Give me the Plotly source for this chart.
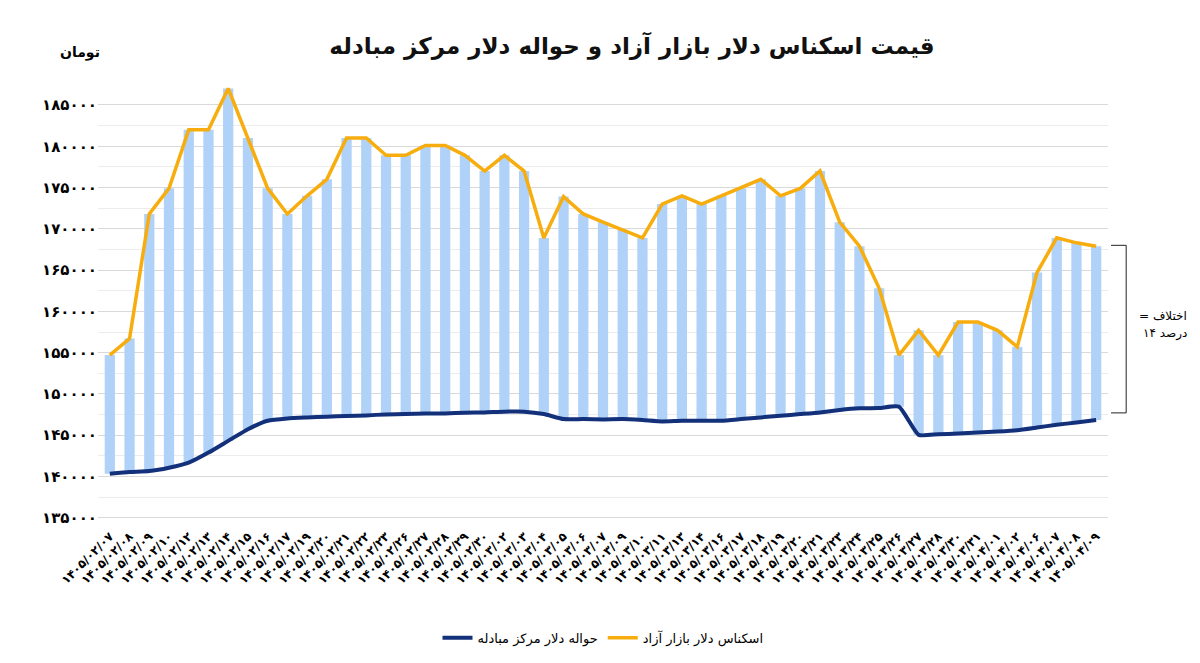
import plotly.graph_objects as go

fa = str.maketrans("0123456789", "۰۱۲۳۴۵۶۷۸۹")

days_02 = ["07","08","09","10","12","13","14","15","16","17","19","20","21","22","23","26","27","28","29","30"]
days_03 = ["02","03","04","05","06","07","09","10","11","13","14","16","17","18","19","20","21","23","24","25","26","27","28","30","31"]
days_04 = ["01","02","06","07","08","09"]
dates = ([f"1405/02/{d}" for d in days_02] + [f"1405/03/{d}" for d in days_03] +
         [f"1405/04/{d}" for d in days_04])
labels = [d.translate(fa) for d in dates]

free_market = [154700,156700,171800,174900,182000,182000,187000,181000,174900,171800,
               174000,176000,181000,181000,178900,178900,180100,180100,178900,177000,
               178900,177000,168900,173900,171800,170800,169900,168900,173000,174000,
               173000,174000,174900,176000,174000,174900,177000,170800,167900,162800,
               154700,157700,154700,158700,158700,157700,155700,164700,168900,168300,167900]
exchange = [140330,140530,140650,141060,141670,142890,144310,145730,146750,147030,
            147150,147240,147320,147400,147520,147560,147640,147640,147720,147760,
            147850,147850,147560,146950,146950,146910,146950,146830,146670,146750,
            146750,146750,146950,147150,147360,147560,147760,148050,148250,148290,
            148460,145040,145120,145200,145330,145450,145610,145930,146260,146540,146830]

yticks = list(range(135000, 185001, 5000))
ytext = [str(v).translate(fa) for v in yticks]

font = "DejaVu Sans"
fig = go.Figure()
fig.add_trace(go.Bar(x=labels, y=[f - e for f, e in zip(free_market, exchange)], base=exchange,
                     marker=dict(color="#b0d2f8", line=dict(width=0)), width=0.52,
                     showlegend=False, hoverinfo="skip"))
fig.add_trace(go.Scatter(x=labels, y=exchange, mode="lines", name="حواله دلار مرکز مبادله",
                         line=dict(color="#13307a", width=4, shape="spline", smoothing=0.5)))
fig.add_trace(go.Scatter(x=labels, y=free_market, mode="lines", name="اسکناس دلار بازار آزاد",
                         line=dict(color="#f7ad0e", width=3.5)))

x0, x1 = 1.003, 1.018
for yv in (168000, 147700):
    fig.add_shape(type="line", xref="paper", yref="y", x0=x0, x1=x1, y0=yv, y1=yv,
                  line=dict(color="#222", width=1))
fig.add_shape(type="line", xref="paper", yref="y", x0=x1, x1=x1, y0=147700, y1=168000,
              line=dict(color="#222", width=1))
fig.add_annotation(xref="paper", yref="y", x=1.08, y=159400, showarrow=False,
                   text="= اختلاف", font=dict(family=font, size=12, color="#000"))
fig.add_annotation(xref="paper", yref="y", x=1.08, y=157300, showarrow=False,
                   text="درصد ۱۴", font=dict(family=font, size=12, color="#000"))

fig.update_layout(
    width=1200, height=663, plot_bgcolor="white", paper_bgcolor="white",
    margin=dict(l=90, r=100, t=78, b=145),
    title=dict(text="<b>قیمت اسکناس دلار بازار آزاد و حواله دلار مرکز مبادله</b>",
               x=0.52, y=0.955, xanchor="center", font=dict(family=font, size=23, color="#111")),
    font=dict(family=font, color="#000"),
    legend=dict(orientation="h", x=0.5, xanchor="center", y=-0.22, yanchor="top",
                font=dict(family=font, size=13)),
    xaxis=dict(tickangle=-45, tickfont=dict(family=font, size=12, color="#000", weight="bold"),
               showgrid=False, ticks="", range=[-0.6, 50.6]),
    yaxis=dict(range=[134000, 187300], tickvals=yticks, ticktext=ytext,
               tickfont=dict(family=font, size=15, color="#000", weight="bold"),
               showgrid=True, gridcolor="#d9d9d9", zeroline=False,
               minor=dict(dtick=2500, showgrid=True, gridcolor="#ececec")),
)
fig.add_annotation(xref="paper", yref="paper", x=-0.04, y=1.1, showarrow=False,
                   text="<b>تومان</b>", font=dict(family=font, size=14, color="#000"))
fig.write_html("out.html")
